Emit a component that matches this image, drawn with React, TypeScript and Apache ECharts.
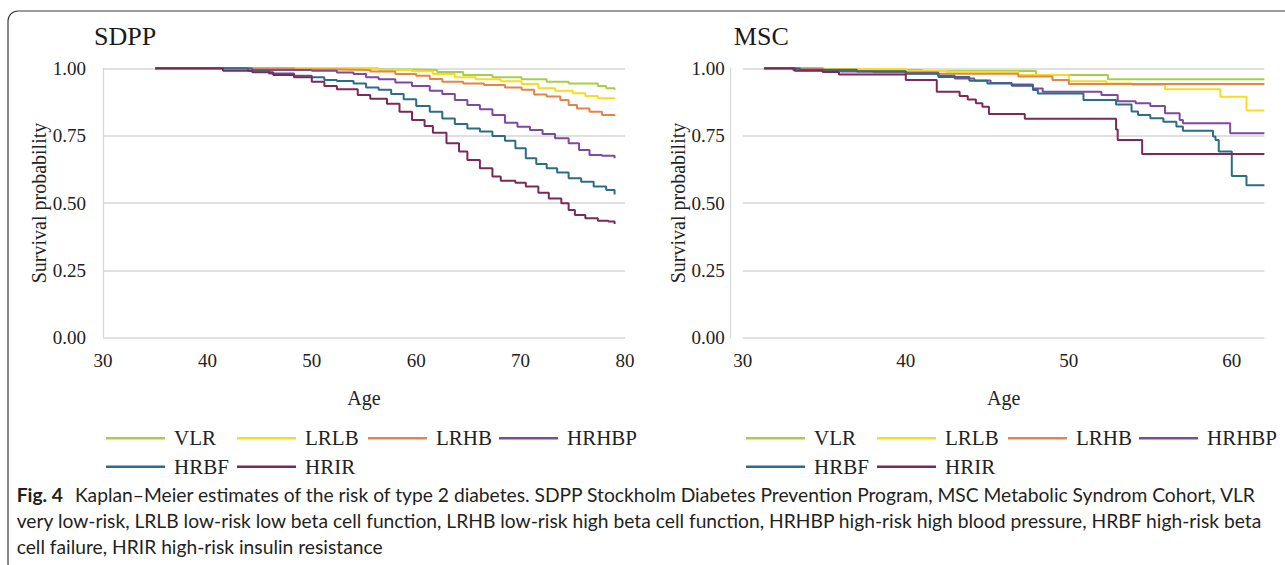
import React, { useEffect, useRef } from "react";
import * as echarts from "echarts";

// ---------- data ----------
const groupNames = ["VLR", "LRLB", "LRHB", "HRHBP", "HRBF", "HRIR"];
const groupColors = ["#a6cf46", "#f7dc23", "#e0854d", "#7e4a9b", "#2b6c86", "#7b2a57"];

const panelTitles = ["SDPP", "MSC"];
const xAxisName = "Age";
const yAxisName = "Survival probability";
const sdppAgeRange = [30, 80];
const mscAgeRange = [30, 62];
const ageStep = 10;
const survivalStep = 0.25;

// SDPP Kaplan–Meier estimates: [age, survival]
const sdppVLR = [[35, 1], [56.4, 0.996], [59.6, 0.994], [62, 0.986], [64.5, 0.975], [67.3, 0.967], [70.1, 0.959], [72.5, 0.95], [74.6, 0.944], [77.4, 0.934], [78.2, 0.926], [79, 0.92]];
const sdppLRLB = [[35, 1], [52.4, 0.998], [56.4, 0.994], [59.6, 0.989], [61.6, 0.979], [63.7, 0.967], [65.7, 0.959], [68.1, 0.952], [70.1, 0.942], [71.7, 0.926], [73.3, 0.917], [75, 0.907], [76.2, 0.897], [77.4, 0.889], [79, 0.885]];
const sdppLRHB = [[35, 1], [48.3, 0.996], [52.4, 0.994], [55.6, 0.988], [58, 0.979], [60, 0.972], [61.3, 0.96], [62.5, 0.95], [64.5, 0.944], [66.5, 0.938], [68.5, 0.929], [70.1, 0.92], [71.3, 0.903], [72.5, 0.895], [73.8, 0.882], [74.6, 0.864], [75.4, 0.851], [76.6, 0.839], [77.8, 0.827], [79, 0.823]];
const sdppHRHBP = [[35, 1], [44.3, 0.994], [50, 0.991], [52.4, 0.984], [54, 0.979], [55.2, 0.967], [56.4, 0.959], [58, 0.947], [59.6, 0.934], [61.3, 0.917], [62.5, 0.905], [63.7, 0.882], [64.9, 0.864], [66.1, 0.848], [67.3, 0.827], [68.5, 0.798], [69.7, 0.783], [70.9, 0.771], [72.1, 0.756], [73.3, 0.74], [74.6, 0.722], [75.6, 0.697], [76.6, 0.678], [77.8, 0.675], [79, 0.666]];
const sdppHRBF = [[35, 1], [43.9, 0.991], [45.9, 0.981], [48.3, 0.972], [50, 0.967], [51.2, 0.957], [52.4, 0.953], [54, 0.944], [55.2, 0.929], [56.4, 0.92], [57.6, 0.905], [58.8, 0.885], [60, 0.86], [61.3, 0.839], [62.5, 0.814], [63.7, 0.793], [64.9, 0.777], [66.1, 0.765], [67.3, 0.749], [68.5, 0.731], [69.5, 0.703], [70.5, 0.666], [71.5, 0.645], [72.5, 0.629], [73.5, 0.613], [74.6, 0.592], [75.8, 0.579], [77, 0.561], [78.2, 0.548], [79, 0.532]];
const sdppHRIR = [[35, 1], [41.5, 0.991], [44.3, 0.985], [46.3, 0.975], [48.3, 0.967], [50, 0.95], [51.2, 0.934], [52.4, 0.922], [54.4, 0.901], [55.6, 0.887], [57.2, 0.868], [58.4, 0.839], [59.6, 0.808], [60.8, 0.786], [61.6, 0.761], [62.9, 0.722], [64.1, 0.691], [64.9, 0.66], [66.1, 0.629], [67.3, 0.598], [68.1, 0.583], [69.5, 0.575], [70.5, 0.561], [71.7, 0.538], [72.7, 0.517], [73.9, 0.499], [74.6, 0.474], [75.2, 0.455], [76.2, 0.443], [77.4, 0.434], [78.4, 0.431], [79, 0.422]];

// MSC Kaplan–Meier estimates: [age, survival]
const mscVLR = [[31.3, 1], [34.5, 0.997], [38, 0.994], [41, 0.99], [48, 0.975], [52.4, 0.959], [62, 0.959]];
const mscLRLB = [[31.3, 1], [35, 0.997], [40, 0.99], [42.5, 0.987], [46.9, 0.975], [50, 0.952], [52.3, 0.944], [53.9, 0.938], [55.9, 0.922], [59.3, 0.894], [60.9, 0.843], [62, 0.843]];
const mscLRHB = [[31.3, 1], [34.9, 0.99], [38, 0.985], [42, 0.98], [46.9, 0.97], [49, 0.957], [50, 0.942], [62, 0.942]];
const mscHRHBP = [[31.3, 1], [33.1, 0.993], [36, 0.988], [40, 0.982], [42, 0.972], [43, 0.962], [44.2, 0.955], [45.2, 0.945], [46.5, 0.94], [47.8, 0.925], [48.4, 0.913], [52, 0.901], [53, 0.878], [54.1, 0.87], [55, 0.86], [55.9, 0.833], [56.8, 0.808], [57, 0.796], [59.9, 0.759], [62, 0.759]];
const mscHRBF = [[31.3, 1], [33.5, 0.995], [37, 0.988], [40, 0.98], [42, 0.968], [43.9, 0.954], [45, 0.944], [46.5, 0.935], [47.8, 0.919], [48.1, 0.906], [50.9, 0.882], [52.9, 0.866], [53.85, 0.84], [54.25, 0.827], [55, 0.815], [55.8, 0.802], [56.6, 0.784], [57, 0.768], [58.85, 0.747], [59, 0.734], [59.2, 0.691], [60, 0.6], [60.9, 0.566], [62, 0.566]];
const mscHRIR = [[31.3, 1], [33.2, 0.991], [34.9, 0.986], [35.9, 0.977], [40, 0.957], [41.9, 0.913], [43.3, 0.897], [43.8, 0.884], [44.3, 0.87], [44.7, 0.857], [45.1, 0.83], [47.3, 0.813], [52.9, 0.773], [53, 0.734], [54.5, 0.682], [62, 0.682]];

const sdppData = [sdppVLR, sdppLRLB, sdppLRHB, sdppHRHBP, sdppHRBF, sdppHRIR];
const mscData = [mscVLR, mscLRLB, mscLRHB, mscHRHBP, mscHRBF, mscHRIR];

const captionBold = "Fig. 4";
const captionLines = [
  "Kaplan–Meier estimates of the risk of type 2 diabetes. SDPP Stockholm Diabetes Prevention Program, MSC Metabolic Syndrom Cohort, VLR",
  "very low-risk, LRLB low-risk low beta cell function, LRHB low-risk high beta cell function, HRHBP high-risk high blood pressure, HRBF high-risk beta",
  "cell failure, HRIR high-risk insulin resistance",
];

// ---------- styling ----------
const SERIF = "'Liberation Serif', 'Times New Roman', serif";
const SANS = "Lato, 'Open Sans', sans-serif";
const TEXT = "#222222";
const GRID_LINE = "#d6d6d6";

function measure(text: string, font: string) {
  const ctx = document.createElement("canvas").getContext("2d") as CanvasRenderingContext2D;
  ctx.font = font;
  return ctx.measureText(text).width;
}

export default function App() {
  const ref = useRef<HTMLDivElement>(null);

  useEffect(() => {
    if (!ref.current) return;
    const chart = echarts.init(ref.current, undefined, { renderer: "svg" });

    const grids = [
      { left: 103, top: 68.3, width: 522, height: 269.4 },
      { left: 742.8, top: 68.3, width: 521.6, height: 269.4 },
    ];
    const ranges = [sdppAgeRange, mscAgeRange];

    const xAxes = ranges.map((r, i) => ({
      type: "value",
      gridIndex: i,
      min: r[0],
      max: r[1],
      interval: ageStep,
      name: xAxisName,
      nameLocation: "middle",
      nameGap: 50,
      nameTextStyle: { fontFamily: SERIF, fontSize: 20, color: TEXT },
      axisLine: { show: false },
      axisTick: { show: false },
      splitLine: { show: false },
      axisLabel: { fontFamily: SERIF, fontSize: 19, color: TEXT, margin: 13, showMaxLabel: i === 0 },
    }));

    const yAxes = [0, 1].map((i) => ({
      type: "value",
      gridIndex: i,
      min: 0,
      max: 1,
      interval: survivalStep,
      offset: i === 0 ? 0 : 13,
      name: yAxisName,
      nameLocation: "middle",
      nameRotate: 90,
      nameGap: i === 0 ? 53 : 41,
      nameTextStyle: { fontFamily: SERIF, fontSize: 20, color: TEXT },
      axisLine: { show: true, lineStyle: { color: GRID_LINE, width: 1.2 } },
      axisTick: { show: false },
      splitLine: { show: true, lineStyle: { color: GRID_LINE, width: 1.5 } },
      axisLabel: {
        fontFamily: SERIF,
        fontSize: 19,
        color: TEXT,
        margin: i === 0 ? 17 : 5,
        formatter: (v: number) => v.toFixed(2),
      },
    }));

    const series: any[] = [];
    [sdppData, mscData].forEach((panel, p) => {
      panel.forEach((d, k) => {
        series.push({
          type: "line",
          name: groupNames[k],
          xAxisIndex: p,
          yAxisIndex: p,
          data: d,
          step: "end",
          showSymbol: false,
          symbol: "none",
          lineStyle: { color: groupColors[k], width: 2 },
          itemStyle: { color: groupColors[k] },
          emphasis: { disabled: true },
        });
      });
    });

    const legendBase = {
      icon: "rect",
      itemWidth: 59,
      itemHeight: 2.5,
      itemGap: 0,
      orient: "horizontal",
      padding: 0,
      selectedMode: false,
      textStyle: {
        fontFamily: SERIF,
        fontSize: 21,
        color: TEXT,
        width: 63,
        padding: [0, 0, 0, 4],
        lineHeight: 24,
      },
    };
    const legendLefts = [106, 746];
    const legendTops = [438.3 - 12, 466.7 - 12];
    const legends: any[] = [];
    legendLefts.forEach((l) => {
      legends.push({ ...legendBase, left: l, top: legendTops[0], data: groupNames.slice(0, 4) });
      legends.push({ ...legendBase, left: l, top: legendTops[1], data: groupNames.slice(4) });
    });

    // caption font size fitted to the reference line width
    const base = 100;
    const boldGap = 7;
    const w1 = measure(captionBold, `bold ${base}px ${SANS}`) + measure(" " + captionLines[0], `${base}px ${SANS}`);
    const capSize = (base * (1241 - boldGap)) / w1;
    const capX = 16.7;
    const capY = [494, 520.3, 546.6];

    const graphic: any[] = [
      {
        type: "rect",
        shape: { x: 8, y: 11, width: 1300, height: 562, r: 10 },
        style: { fill: "none", stroke: "#3a3a3a", lineWidth: 1.2 },
        silent: true,
      },
      {
        type: "text",
        x: 94,
        y: 36.5,
        style: { text: panelTitles[0], fontFamily: SERIF, fontSize: 26, fill: "#1a1a1a", verticalAlign: "middle", align: "left" },
      },
      {
        type: "text",
        x: 733.8,
        y: 36.5,
        style: { text: panelTitles[1], fontFamily: SERIF, fontSize: 26, fill: "#1a1a1a", verticalAlign: "middle", align: "left" },
      },
      {
        type: "text",
        x: capX,
        y: capY[0],
        style: {
          text: `{b|${captionBold}} ${captionLines[0]}`,
          fontFamily: SANS,
          fontSize: capSize,
          fill: "#231f20",
          verticalAlign: "middle",
          align: "left",
          rich: {
            b: { fontFamily: SANS, fontSize: capSize, fontWeight: "bold", fill: "#231f20", padding: [0, boldGap, 0, 0] },
          },
        },
      },
      ...captionLines.slice(1).map((t, i) => ({
        type: "text",
        x: capX,
        y: capY[i + 1],
        style: { text: t, fontFamily: SANS, fontSize: capSize, fill: "#231f20", verticalAlign: "middle", align: "left" },
      })),
    ];

    chart.setOption({
      animation: false,
      backgroundColor: "#ffffff",
      grid: grids,
      xAxis: xAxes,
      yAxis: yAxes,
      series,
      legend: legends,
      graphic,
    });

    return () => chart.dispose();
  }, []);

  return (
    <div
      ref={ref}
      style={{ position: "absolute", left: 0, top: 0, width: 1285, height: 565 }}
    />
  );
}
